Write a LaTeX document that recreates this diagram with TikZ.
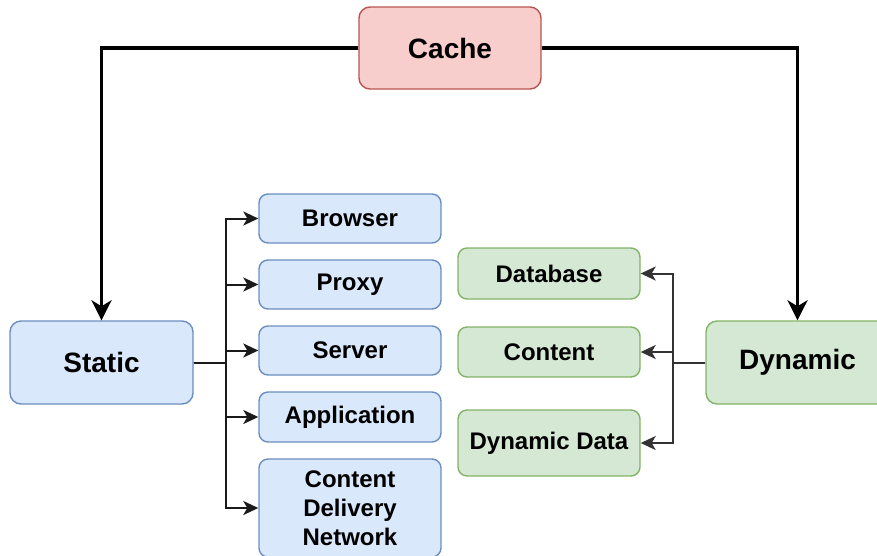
\documentclass[tikz,border=0pt]{standalone}
\usepackage{fontspec}
\setmainfont{Liberation Sans}
\usetikzlibrary{arrows.meta}
\definecolor{bfill}{HTML}{DAE8FC}\definecolor{bline}{HTML}{6C8EBF}
\definecolor{gfill}{HTML}{D5E8D4}\definecolor{gline}{HTML}{82B366}
\definecolor{rfill}{HTML}{F8CECC}\definecolor{rline}{HTML}{B85450}
\definecolor{conn}{HTML}{1A1A1A}
\definecolor{conng}{HTML}{333333}
\tikzset{
  box/.style={draw, line width=1.4pt, rounded corners=9pt, inner sep=0pt, align=center,
    font=\bfseries\fontsize{24}{29}\selectfont},
  bigbox/.style={box, rounded corners=11pt, font=\bfseries\fontsize{28}{30}\selectfont},
  bluebox/.style={fill=bfill, draw=bline},
  greenbox/.style={fill=gfill, draw=gline},
  redbox/.style={fill=rfill, draw=rline},
  bigarrow/.style={line width=3.5pt, black, -{Stealth[length=20pt,width=20pt,inset=6pt]}},
  smallarrow/.style={line width=2pt, conn, -{Stealth[length=15pt,width=14pt,inset=4pt]}},
}
\begin{document}
\begin{tikzpicture}[x=1pt,y=-1pt]
\useasboundingbox[clip] (0,0) rectangle (877,555);
\node[bigbox,redbox,minimum width=182pt,minimum height=82pt] (cache) at (450,48) {Cache};
\node[bigbox,bluebox,minimum width=183pt,minimum height=83pt] (static) at (101.5,362.5) {Static};
\node[bigbox,greenbox,minimum width=183pt,minimum height=83pt] (dynamic) at (797.5,362.5) {Dynamic};

\node[box,bluebox,minimum width=182pt,minimum height=49pt] (browser) at (350,218.5) {Browser};
\node[box,bluebox,minimum width=182pt,minimum height=49pt] (proxy) at (350,284.5) {Proxy};
\node[box,bluebox,minimum width=182pt,minimum height=49pt] (server) at (350,350.5) {Server};
\node[box,bluebox,minimum width=182pt,minimum height=50pt] (app) at (350,417) {Application};
\node[box,bluebox,minimum width=182pt,minimum height=98pt] (cdn) at (350,508) {Content\\Delivery\\Network};

\node[box,greenbox,minimum width=182pt,minimum height=51pt] (db) at (549,273.5) {Database};
\node[box,greenbox,minimum width=182pt,minimum height=50pt] (content) at (549,352) {Content};
\node[box,greenbox,minimum width=182pt,minimum height=66pt] (ddata) at (549,443) {Dynamic Data};

\coordinate (sj) at (226,362.5);
\coordinate (dj) at (673,362.5);

\draw[bigarrow] (cache.west) -| (static.north);
\draw[bigarrow] (cache.east) -| (dynamic.north);

\foreach \t in {browser,proxy,server,app}
  \draw[smallarrow] (static.east) -- (sj) |- (\t.west);
\draw[smallarrow] (static.east) -- (sj) |- (cdn.west);

\foreach \t in {db,content,ddata}
  \draw[smallarrow,conng] (dynamic.west) -- (dj) |- (\t.east);
\end{tikzpicture}
\end{document}
